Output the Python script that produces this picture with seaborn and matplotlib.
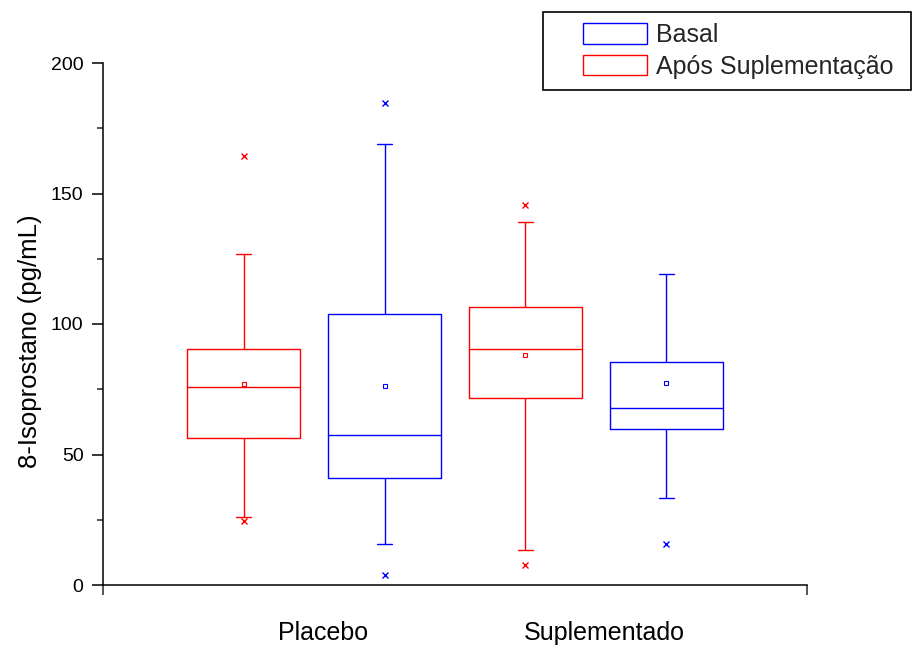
import numpy as np
import pandas as pd
import matplotlib
matplotlib.use("Agg")
import matplotlib.pyplot as plt
from matplotlib.patches import Rectangle
from matplotlib.legend_handler import HandlerPatch
import seaborn as sns

# Box summaries for each group / period (pg/mL)
groups = ["Placebo", "Placebo", "Suplementado", "Suplementado"]
periods = ["Após Suplementação", "Basal", "Após Suplementação", "Basal"]
whisker_low = [26.1, 15.7, 13.4, 33.3]
q1 = [56.3, 41.0, 71.6, 59.8]
median = [75.9, 57.5, 90.4, 67.8]
q3 = [90.4, 103.8, 106.5, 85.4]
whisker_high = [126.8, 169.0, 139.0, 119.2]
means = [77.0, 76.2, 88.1, 77.4]
outlier_high = [164.4, 184.7, 145.6, np.nan]
outlier_low = [24.5, 3.8, 7.7, 15.7]

group_order = ["Placebo", "Suplementado"]
period_order = ["Após Suplementação", "Basal"]
legend_order = ["Basal", "Após Suplementação"]
colors = {"Basal": "#0000FF", "Após Suplementação": "#FF0000"}

# Five-number table: with five values the quartiles fall exactly on q1/median/q3
box_rows = []
for g, p, lo, a, m, b, hi in zip(groups, periods, whisker_low, q1, median, q3, whisker_high):
    for v in (lo, a, m, b, hi):
        box_rows.append({"grupo": g, "periodo": p, "valor": v})
boxes = pd.DataFrame(box_rows)

summary = pd.DataFrame({
    "grupo": groups,
    "periodo": periods,
    "media": means,
    "alto": outlier_high,
    "baixo": outlier_low,
})

sns.set_theme(style="ticks")
plt.rcParams["font.family"] = ["Liberation Sans", "DejaVu Sans"]

fig = plt.figure(figsize=(9.22, 6.45), dpi=100)
ax = fig.add_axes([103 / 922, 1 - 585 / 645, (807 - 103) / 922, (585 - 63) / 645])

sns.boxplot(
    data=boxes, x="grupo", y="valor", hue="periodo",
    order=group_order, hue_order=period_order, palette=colors,
    whis=(0, 100), width=1.0, gap=0.2, dodge=True, fill=False,
    linewidth=1.0, showfliers=False, capwidths=0.053, legend=False, ax=ax,
)

common = dict(
    order=group_order, hue_order=period_order, palette=colors,
    dodge=0.5, errorbar=None, linestyle="none", legend=False, ax=ax,
)
sns.pointplot(data=summary, x="grupo", y="media", hue="periodo",
              marker="s", markersize=3, markerfacecolor="white",
              markeredgewidth=0.8, **common)
for col in ("alto", "baixo"):
    sns.pointplot(data=summary, x="grupo", y=col, hue="periodo",
                  marker="x", markersize=4.5, markeredgewidth=1.0, **common)

# Axes styling
ax.set_xlim(-0.75, 1.75)
ax.set_ylim(0, 200)
for side in ("top", "right"):
    ax.spines[side].set_visible(False)
for side in ("left", "bottom"):
    ax.spines[side].set_linewidth(1.1)
    ax.spines[side].set_color("black")

ax.set_yticks([0, 50, 100, 150, 200])
ax.set_yticks([25, 75, 125, 175], minor=True)
ax.tick_params(axis="y", which="major", direction="out", length=8, width=1.1,
               pad=6, labelsize=14, colors="black")
ax.tick_params(axis="y", which="minor", direction="out", length=4.5, width=1.1)

label_pos = [i + 0.03 for i in range(len(group_order))]
ax.set_xticks([-0.75, 1.75], labels=["", ""])
ax.set_xticks(label_pos, labels=group_order, minor=True)
ax.tick_params(axis="x", which="major", direction="out", length=7.2, width=1.1)
ax.tick_params(axis="x", which="minor", length=0, pad=26, labelsize=18,
               labelcolor="black")

ax.set_xlabel("")
ax.set_ylabel("8-Isoprostano (pg/mL)", fontsize=18.5, color="black")
ax.yaxis.set_label_coords(-0.087, 0.467)
ax.grid(False)


# Legend with open boxes, drawn at the right end of the handle area
def open_box(legend, orig_handle, xdescent, ydescent, width, height, fontsize):
    w = 46.0
    return Rectangle((-xdescent + width - w, -ydescent), w, height)


handles = [Rectangle((0, 0), 1, 1, facecolor="none", edgecolor=colors[p], linewidth=1.0)
           for p in legend_order]
leg = fig.legend(
    handles, legend_order,
    loc="upper left",
    bbox_to_anchor=(543 / 922, 1 - 90 / 645, (911 - 543) / 922, 78 / 645),
    mode="expand", borderaxespad=0, fontsize=18,
    handlelength=3.71, handleheight=0.88, handletextpad=0.36,
    borderpad=0.45, labelspacing=0.3,
    fancybox=False, framealpha=1, edgecolor="black",
    handler_map={Rectangle: HandlerPatch(patch_func=open_box)},
)
leg.get_frame().set_linewidth(1.2)

fig.savefig("out.png", dpi=100, facecolor="white")
